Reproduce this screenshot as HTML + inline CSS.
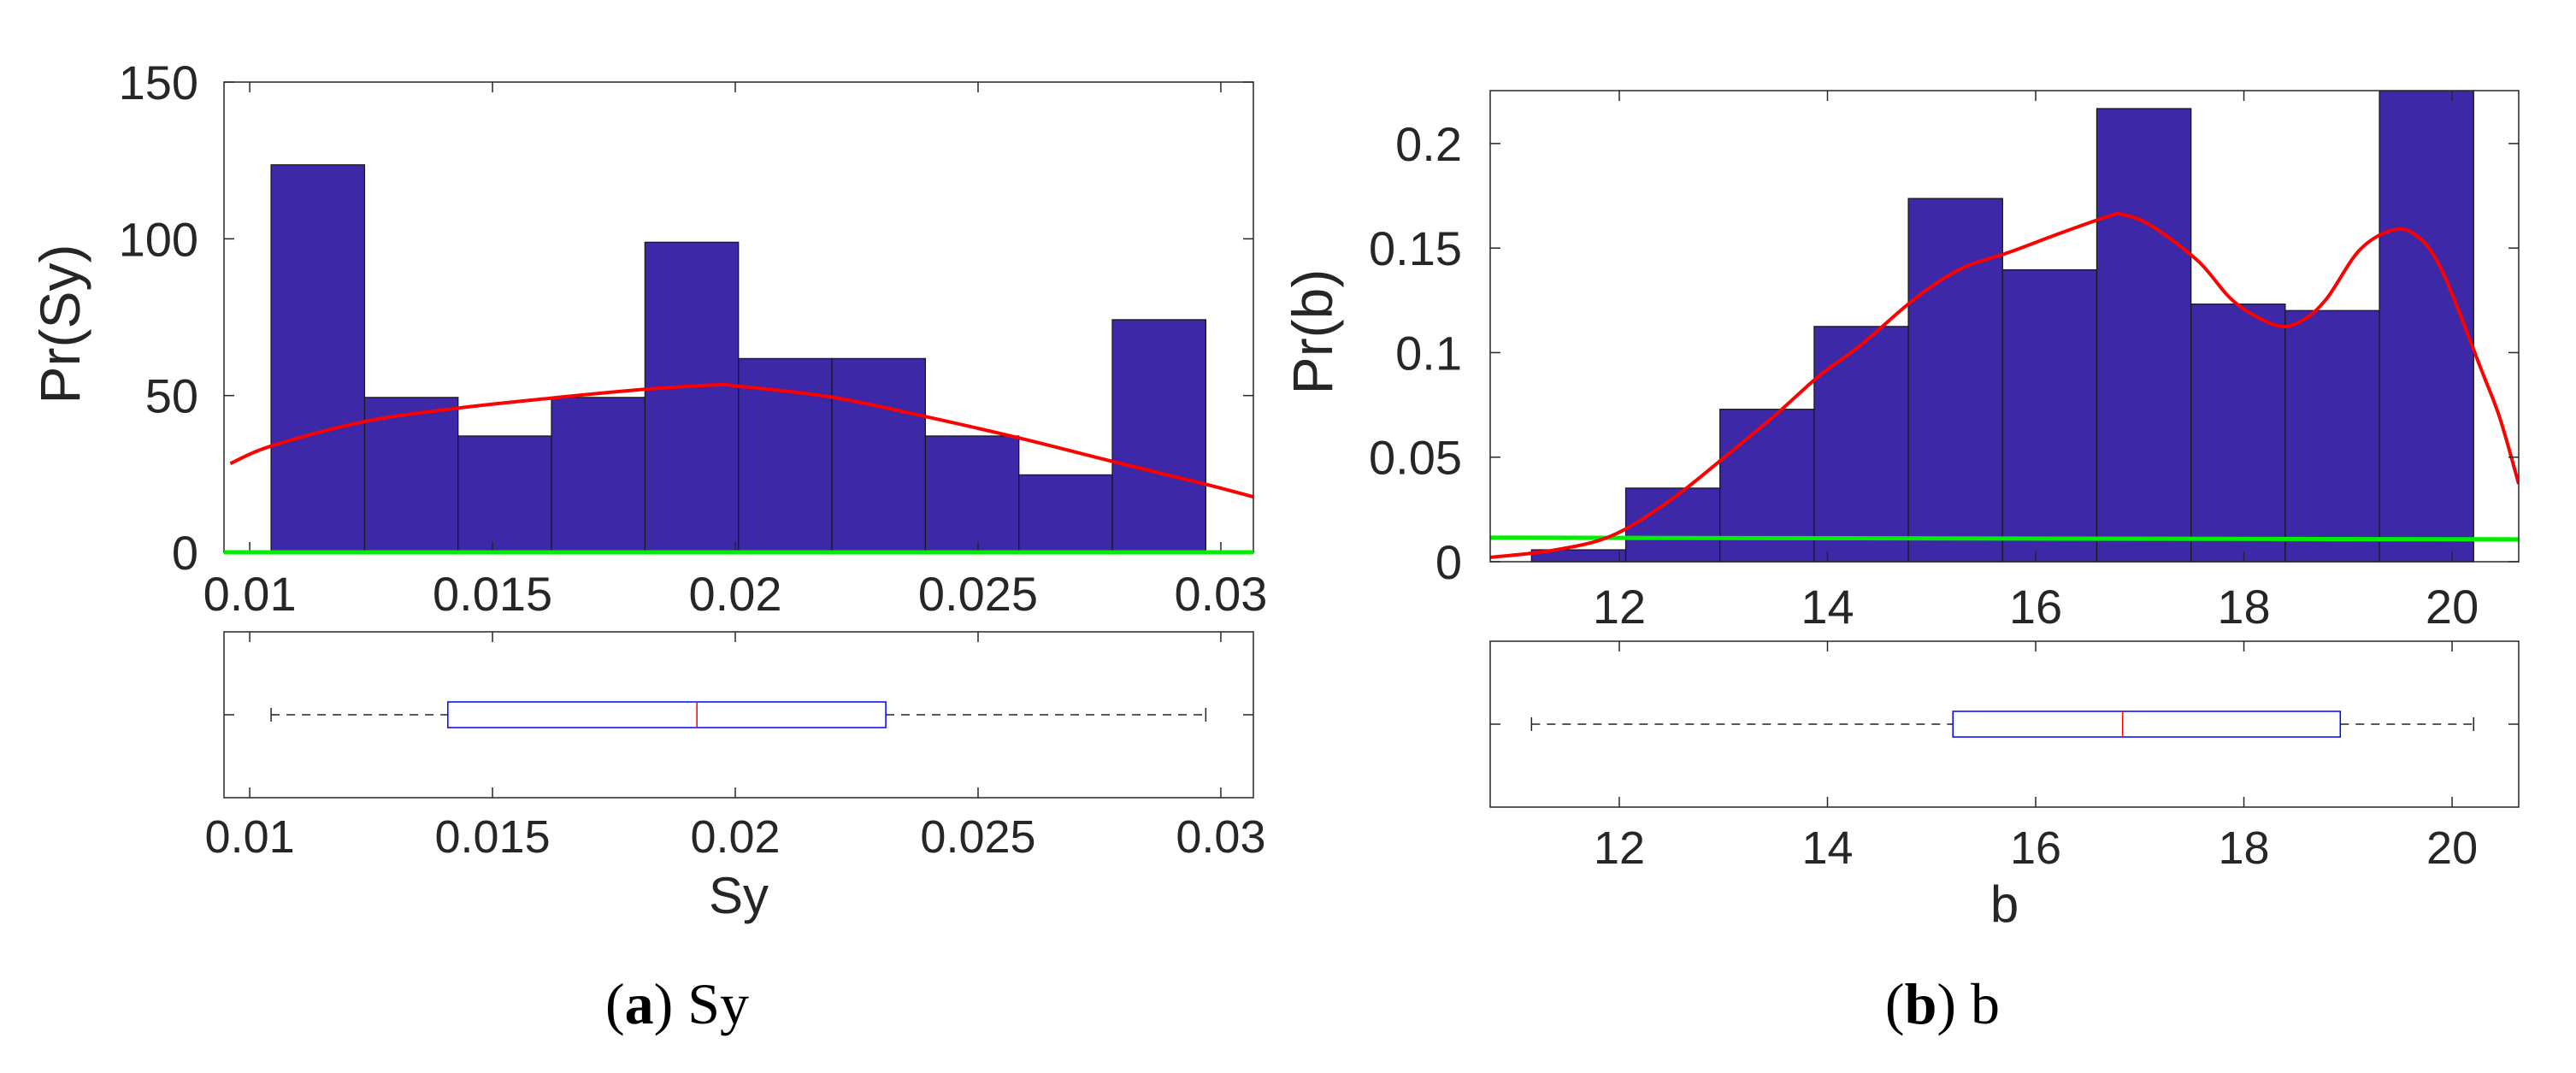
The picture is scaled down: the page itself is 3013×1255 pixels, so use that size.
<!DOCTYPE html>
<html><head><meta charset="utf-8"><style>
html,body{margin:0;padding:0;background:#fff;}
svg{display:block;font-family:"Liberation Sans",sans-serif;}
</style></head><body>
<svg id="fig" width="3013" height="1255" viewBox="0 0 3013 1255" xmlns="http://www.w3.org/2000/svg"></svg>
<script>
// ---------- data: panel a (Sy) ----------
const sySeriesBinEdges = [0.01044,0.012365,0.01429,0.016215,0.01814,0.020065,0.02199,0.023915,0.02584,0.027765,0.02969];
const syCounts = [123.6,49.4,37.1,49.4,98.9,61.8,61.8,37.1,24.7,74.2];
const syFitX = [0.0096,0.01044,0.012365,0.01429,0.016215,0.01814,0.0196,0.020065,0.02199,0.023915,0.02584,0.027765,0.02969,0.03067];
const syFitY = [28.3,33.9,41.7,46,49.2,52,53.4,53,49.5,43.3,36.5,29,21.7,17.7];
const syGreenY = [0,0];
const syBox = [0.01044,0.01408,0.01921,0.02310,0.02969];
const syXTicks = [0.01,0.015,0.02,0.025,0.03];
const syXTickLabels = ["0.01","0.015","0.02","0.025","0.03"];
const syYTicks = [0,50,100,150];
const syYTickLabels = ["0","50","100","150"];
// ---------- data: panel b ----------
const bBinEdges = [11.157,12.062,12.967,13.872,14.777,15.682,16.587,17.492,18.397,19.302,20.207];
const bDensity = [0.0057,0.0352,0.0729,0.1125,0.1737,0.1396,0.2167,0.1232,0.1201,0.26];
const bFitX = [10.76,11.37,11.93,12.49,13.05,13.52,13.93,14.32,14.84,15.28,15.74,16.23,16.71,16.83,17.11,17.56,17.91,18.31,18.55,18.79,19.11,19.43,19.67,19.91,20.28,20.46,20.64];
const bFitY = [0.0021,0.0055,0.0125,0.0294,0.0516,0.0711,0.0893,0.1036,0.1258,0.1401,0.1479,0.1570,0.1654,0.1661,0.1607,0.1438,0.1242,0.1130,0.1151,0.1255,0.1490,0.1586,0.1555,0.1385,0.0919,0.0685,0.0372];
const bGreenY = [0.0115,0.0107];
const bBox = [11.157,15.205,16.835,18.926,20.207];
const bXTicks = [12,14,16,18,20];
const bXTickLabels = ["12","14","16","18","20"];
const bYTicks = [0,0.05,0.1,0.15,0.2];
const bYTickLabels = ["0","0.05","0.1","0.15","0.2"];

const svg = document.getElementById('fig');
const NS = 'http://www.w3.org/2000/svg';
function mk(tag, attrs, parent){
  const e = document.createElementNS(NS, tag);
  for (const k in attrs) e.setAttribute(k, attrs[k]);
  (parent||svg).appendChild(e);
  return e;
}
function txt(s, attrs){ const t = mk('text', attrs); t.textContent = s; return t; }
function smooth(pts){
  let d = 'M' + pts[0][0].toFixed(1) + ',' + pts[0][1].toFixed(1);
  for (let i = 0; i < pts.length - 1; i++){
    const p0 = pts[Math.max(0,i-1)], p1 = pts[i], p2 = pts[i+1], p3 = pts[Math.min(pts.length-1,i+2)];
    const c1x = p1[0] + (p2[0]-p0[0])/6, c1y = p1[1] + (p2[1]-p0[1])/6;
    const c2x = p2[0] - (p3[0]-p1[0])/6, c2y = p2[1] - (p3[1]-p1[1])/6;
    d += 'C' + c1x.toFixed(1)+','+c1y.toFixed(1)+' '+c2x.toFixed(1)+','+c2y.toFixed(1)+' '+p2[0].toFixed(1)+','+p2[1].toFixed(1);
  }
  return d;
}

function panel(o){
  const g = mk('g', {});
  
  
  const sx = v => o.L + (v - o.xmin) / (o.xmax - o.xmin) * (o.R - o.L);
  const sy = v => o.B - (v - o.ymin) / (o.ymax - o.ymin) * (o.B - o.T);
  const defs = mk('defs', {}, g);
  const cp = mk('clipPath', {id: o.name + 'clip'}, defs);
  mk('rect', {x:o.L, y:o.T, width:o.R-o.L, height:o.B-o.T+4}, cp);
  const plot = mk('g', {'clip-path':'url(#'+o.name+'clip)'}, g);
  for (let i = 0; i < o.vals.length; i++){
    const x0 = sx(o.edges[i]), x1 = sx(o.edges[i+1]), y = sy(o.vals[i]);
    const r = mk('rect', {x:x0, y:y, width:x1-x0, height:sy(0)-y, fill:'#3d28a8', stroke:'#1a1a1a', 'stroke-width':1.3}, plot);
    
    
  }
  const gl = mk('line', {x1:o.L, x2:o.R, y1:sy(o.green[0]), y2:sy(o.green[1]), stroke:'#00ee00', 'stroke-width':5}, plot);
  
  
  const pts = o.fx.map((x,i) => [sx(x), sy(o.fy[i])]);
  const fit = mk('path', {d:smooth(pts), fill:'none', stroke:'#ff0000', 'stroke-width':4, 'stroke-linejoin':'round'}, plot);
  
  
  mk('rect', {x:o.L, y:o.T, width:o.R-o.L, height:o.B-o.T, fill:'none', stroke:'#262626', 'stroke-width':1.5}, g);
  o.xt.forEach((v,i) => {
    const x = sx(v);
    mk('line', {x1:x, x2:x, y1:o.B, y2:o.B-12, stroke:'#262626', 'stroke-width':1.5}, g);
    mk('line', {x1:x, x2:x, y1:o.T, y2:o.T+12, stroke:'#262626', 'stroke-width':1.5}, g);
    const t = txt(o.xtl[i], {x:x, y:o.xtlY, 'font-size':56, fill:'#262626', 'text-anchor':'middle'});
    
    
  });
  o.yt.forEach((v,i) => {
    const y = sy(v);
    mk('line', {x1:o.L, x2:o.L+12, y1:y, y2:y, stroke:'#262626', 'stroke-width':1.5}, g);
    mk('line', {x1:o.R, x2:o.R-12, y1:y, y2:y, stroke:'#262626', 'stroke-width':1.5}, g);
    const t = txt(o.ytl[i], {x:o.ytlX, y:y+20, 'font-size':56, fill:'#262626', 'text-anchor':'end'});
    
    
  });
  if (o.green[0] === 0 && o.green[1] === 0){
    const g0 = mk('line', {x1:o.L, x2:o.R, y1:o.B, y2:o.B, stroke:'#00ee00', 'stroke-width':5}, g);
    
    
  }
  const yl = txt(o.ylabel, {x:0, y:0, 'font-size':66, fill:'#262626', 'text-anchor':'middle', transform:'translate('+(o.ylX+23)+','+o.ylY+') rotate(-90)'});
  
  

  const bg = mk('g', {});
  
  
  mk('rect', {x:o.L, y:o.bT, width:o.R-o.L, height:o.bB-o.bT, fill:'none', stroke:'#262626', 'stroke-width':1.5}, bg);
  o.xt.forEach((v,i) => {
    const x = sx(v);
    mk('line', {x1:x, x2:x, y1:o.bB, y2:o.bB-12, stroke:'#262626', 'stroke-width':1.5}, bg);
    mk('line', {x1:x, x2:x, y1:o.bT, y2:o.bT+12, stroke:'#262626', 'stroke-width':1.5}, bg);
    const t = txt(o.xtl[i], {x:x, y:o.bxtlY, 'font-size':54, fill:'#262626', 'text-anchor':'middle'});
    
    
  });
  mk('line', {x1:o.L, x2:o.L+12, y1:o.wY, y2:o.wY, stroke:'#262626', 'stroke-width':1.5}, bg);
  mk('line', {x1:o.R, x2:o.R-12, y1:o.wY, y2:o.wY, stroke:'#262626', 'stroke-width':1.5}, bg);
  const bx = o.box;
  const w1 = mk('line', {x1:sx(bx[0]), x2:sx(bx[1]), y1:o.wY, y2:o.wY, stroke:'#222', 'stroke-width':1.5, 'stroke-dasharray':'10,8'}, bg);
  
  
  const w2 = mk('line', {x1:sx(bx[3]), x2:sx(bx[4]), y1:o.wY, y2:o.wY, stroke:'#222', 'stroke-width':1.5, 'stroke-dasharray':'10,8'}, bg);
  
  
  mk('line', {x1:sx(bx[0]), x2:sx(bx[0]), y1:o.wY-8, y2:o.wY+8, stroke:'#222', 'stroke-width':1.5}, bg);
  mk('line', {x1:sx(bx[4]), x2:sx(bx[4]), y1:o.wY-8, y2:o.wY+8, stroke:'#222', 'stroke-width':1.5}, bg);
  const br = mk('rect', {x:sx(bx[1]), y:o.wY-15, width:sx(bx[3])-sx(bx[1]), height:30, fill:'none', stroke:'#0000ff', 'stroke-width':1.5}, bg);
  
  
  const md = mk('line', {x1:sx(bx[2]), x2:sx(bx[2]), y1:o.wY-15, y2:o.wY+15, stroke:'#ff0000', 'stroke-width':1.5}, bg);
  
  
  const xl = txt(o.xlabel, {x:(o.L+o.R)/2, y:o.xlY, 'font-size':60, fill:'#262626', 'text-anchor':'middle'});
  
  
}

panel({name:'sy', L:262, R:1466, T:96, B:646, xmin:0.00947, xmax:0.03067, ymin:0, ymax:150,
  edges:sySeriesBinEdges, vals:syCounts, fx:syFitX, fy:syFitY, green:syGreenY,
  xt:syXTicks, xtl:syXTickLabels, yt:syYTicks, ytl:syYTickLabels,
  xtlY:714, ytlX:232, ylabel:'Pr(Sy)', ylX:70, ylY:379,
  bT:739, bB:933, wY:836, box:syBox, bxtlY:997, xlabel:'Sy', xlY:1068});

panel({name:'b', L:1743, R:2946, T:106, B:657, xmin:10.76, xmax:20.64, ymin:0, ymax:0.2253,
  edges:bBinEdges, vals:bDensity, fx:bFitX, fy:bFitY, green:bGreenY,
  xt:bXTicks, xtl:bXTickLabels, yt:bYTicks, ytl:bYTickLabels,
  xtlY:729, ytlX:1710, ylabel:'Pr(b)', ylX:1535, ylY:388,
  bT:750, bB:944, wY:847, box:bBox, bxtlY:1010, xlabel:'b', xlY:1078});

const c1 = mk('text', {x:792, y:1197, 'font-size':68, 'font-family':'"Liberation Serif",serif', 'text-anchor':'middle', fill:'#000'});


c1.innerHTML = '(<tspan font-weight="bold">a</tspan>) Sy';
const c2 = mk('text', {x:2272, y:1197, 'font-size':68, 'font-family':'"Liberation Serif",serif', 'text-anchor':'middle', fill:'#000'});


c2.innerHTML = '(<tspan font-weight="bold">b</tspan>) b';
</script>
</body></html>
